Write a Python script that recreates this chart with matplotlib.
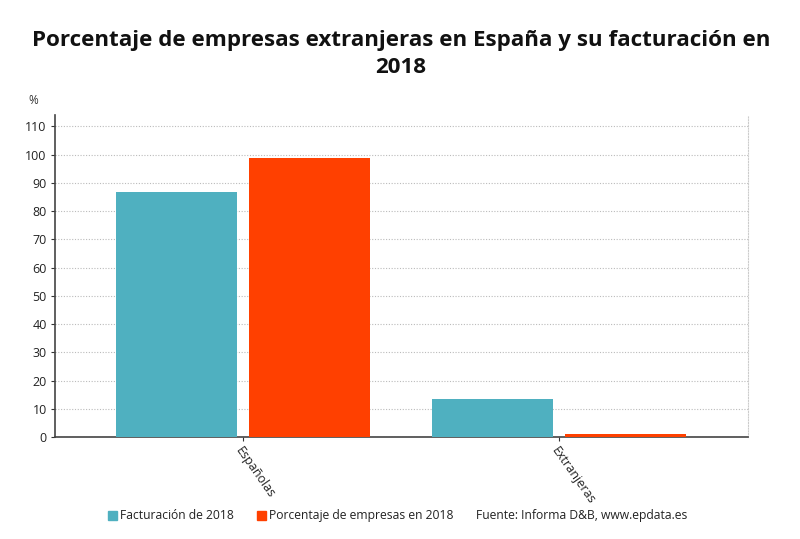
import matplotlib
matplotlib.use("Agg")
import matplotlib.pyplot as plt
import numpy as np

plt.rcParams['font.family'] = ['Open Sans', 'DejaVu Sans']

categories = ["Españolas", "Extranjeras"]
facturacion = [86.6, 13.4]
porcentaje = [98.8, 1.2]
series_names = ["Facturación de 2018", "Porcentaje de empresas en 2018"]
yticks = list(range(0, 111, 10))
title = "Porcentaje de empresas extranjeras en España y su facturación en\n2018"
source = "Fuente: Informa D&B, www.epdata.es"

c1 = "#4FB0C0"
c2 = "#FF4000"

fig = plt.figure(figsize=(8, 5.39), dpi=100)
ax = fig.add_axes([55/800, 1-437/539, 693/800, (437-115)/539])

x = np.arange(len(categories))
w = 0.383
g = 0.035
ax.bar(x - w/2 - g/2, facturacion, w, color=c1, zorder=3)
ax.bar(x + w/2 + g/2, porcentaje, w, color=c2, zorder=3)

ax.set_xlim(-0.595, 1.598)
ax.set_ylim(0, 114)
ax.set_yticks(yticks)
ax.tick_params(axis='y', labelsize=9, length=3, width=0.8, color='#333333', pad=3)
for t in ax.get_yticklabels():
    t.set_color('#222222')
ax.set_xticks(x)
ax.set_xticklabels([])
ax.tick_params(axis='x', length=3, width=0.8, color='#333333')
for xi, lab in zip(x, categories):
    ax.text(xi, -2.5, lab, rotation=-55, ha='left', va='top', rotation_mode='anchor',
            fontsize=9, color='#222222', transform=ax.transData, clip_on=False)

ax.grid(axis='y', linestyle=(0, (1, 1.5)), color='#bbbbbb', linewidth=0.8, zorder=0)
ax.spines['top'].set_visible(False)
ax.spines['right'].set_linestyle((0, (1, 1.5)))
ax.spines['right'].set_color('#cccccc')
for s in ['left', 'bottom']:
    ax.spines[s].set_color('#444444')
    ax.spines[s].set_linewidth(1.2)
    ax.spines[s].set_linestyle((0, (2, 1)))

fig.text(401/800, 1-54/539, title, ha='center', va='center', fontsize=16.1,
         fontweight='bold', color='#111111', linespacing=1.4)
fig.text(33/800, 1-101/539, "%", ha='center', va='center', fontsize=8.5, color='#333333')

# legend row
ly = 1 - 519/539
fs = 8.7
fig.patches.append(plt.Rectangle((108/800, 1 - 520/539), 9/800, 9/539, color=c1,
                                 transform=fig.transFigure, figure=fig))
fig.text(120/800, ly, series_names[0], ha='left', va='baseline', fontsize=fs, color='#222222')
fig.patches.append(plt.Rectangle((257/800, 1 - 520/539), 9/800, 9/539, color=c2,
                                 transform=fig.transFigure, figure=fig))
fig.text(269/800, ly, series_names[1], ha='left', va='baseline', fontsize=fs, color='#222222')
fig.text(476/800, ly, source, ha='left', va='baseline', fontsize=fs, color='#222222')

fig.savefig("out.png", dpi=100, facecolor='white')
